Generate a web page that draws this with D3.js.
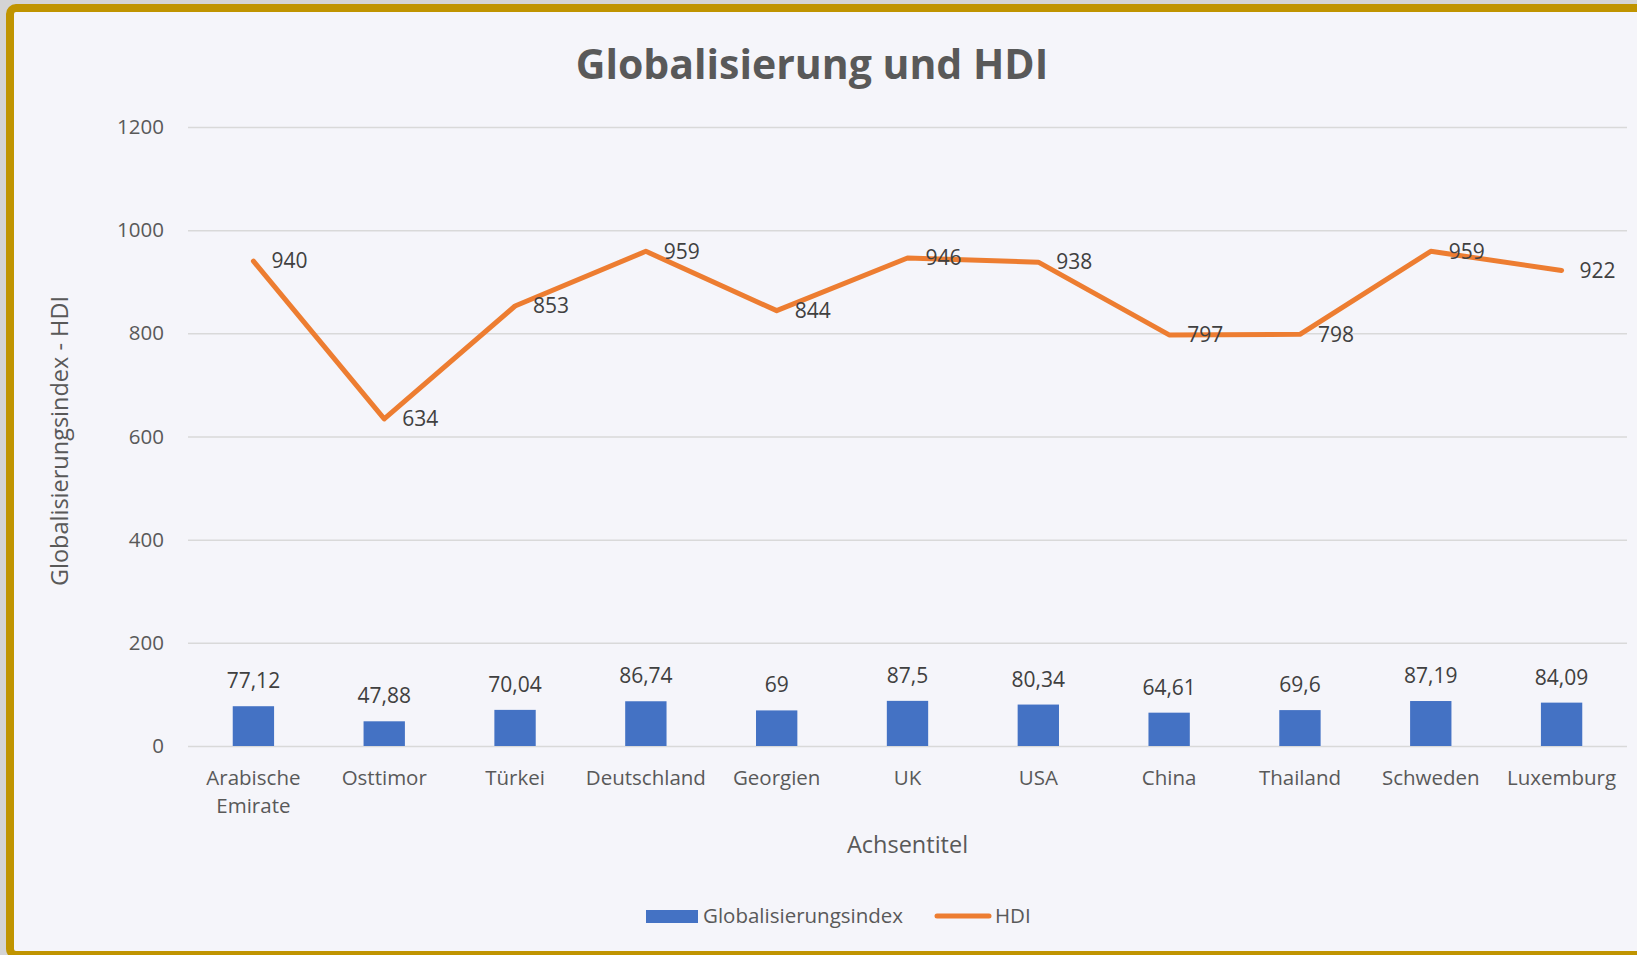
<!DOCTYPE html>
<html>
<head>
<meta charset="utf-8">
<script src="https://cdn.jsdelivr.net/npm/d3@7"></script>
<style>
  body { margin: 0; background: #d4d4d4; }
  svg { display: block; font-family: "Open Sans", sans-serif; }
</style>
</head>
<body>
<div id="chart"></div>
<script>
// Data
var countries = ["Arabische Emirate", "Osttimor", "Türkei", "Deutschland", "Georgien", "UK", "USA", "China", "Thailand", "Schweden", "Luxemburg"];
var globIndex = [77.12, 47.88, 70.04, 86.74, 69, 87.5, 80.34, 64.61, 69.6, 87.19, 84.09];
var hdi = [940, 634, 853, 959, 844, 946, 938, 797, 798, 959, 922];
var yTicks = [0, 200, 400, 600, 800, 1000, 1200];

var svgWidth = 1637;
var svgHeight = 955;
var margin = { top: 127, right: 10, bottom: 209, left: 188 };
var width = 1627 - margin.left;
var height = 746 - margin.top;

var svg = d3.select("#chart")
    .append("svg")
    .attr("width", svgWidth)
    .attr("height", svgHeight);

// frame
svg.append("rect")
    .attr("x", 10).attr("y", 8)
    .attr("width", svgWidth + 40).attr("height", 947)
    .attr("rx", 6)
    .attr("fill", "#f5f5fa")
    .attr("stroke", "#c09400")
    .attr("stroke-width", 8);

// title
svg.append("text")
    .attr("x", 812).attr("y", 79)
    .attr("text-anchor", "middle")
    .style("font-size", "41px")
    .style("font-weight", "bold")
    .attr("fill", "#595959")
    .text("Globalisierung und HDI");

var chart = svg.append("g")
    .attr("transform", "translate(" + margin.left + "," + margin.top + ")");

var x = d3.scaleBand().domain(countries).range([0, width]).padding(0);
var y = d3.scaleLinear().domain([0, 1200]).range([height, 0]);

// y axis with gridlines
var leftAxis = d3.axisLeft(y)
    .tickValues(yTicks)
    .tickFormat(function (d) { return d; })
    .tickSize(-width)
    .tickPadding(24);
var yAxis = chart.append("g").call(leftAxis);
yAxis.select(".domain").remove();
yAxis.selectAll(".tick line").attr("stroke", "#d9d9d9").attr("stroke-width", 1.5);
yAxis.selectAll(".tick text")
    .attr("fill", "#595959")
    .style("font-size", "20.5px")
    .style("font-family", "Open Sans");

// bars
var barW = x.bandwidth() * 0.316;
chart.selectAll(".bar")
    .data(globIndex)
    .enter()
    .append("rect")
    .attr("class", "bar")
    .attr("x", function (d, i) { return x(countries[i]) + x.bandwidth() / 2 - barW / 2; })
    .attr("y", function (d) { return y(d); })
    .attr("width", barW)
    .attr("height", function (d) { return height - y(d); })
    .attr("fill", "#4472c4");

// bar labels
chart.selectAll(".barlabel")
    .data(globIndex)
    .enter()
    .append("text")
    .attr("class", "barlabel")
    .attr("x", function (d, i) { return x(countries[i]) + x.bandwidth() / 2; })
    .attr("y", function (d) { return y(d) - 18; })
    .attr("text-anchor", "middle")
    .attr("fill", "#404040")
    .style("font-size", "21px")
    .text(function (d) { return String(d).replace(".", ","); });

// HDI line
var line = d3.line()
    .x(function (d, i) { return x(countries[i]) + x.bandwidth() / 2; })
    .y(function (d) { return y(d); });

chart.append("path")
    .datum(hdi)
    .attr("d", line)
    .attr("fill", "none")
    .attr("stroke", "#ed7d31")
    .attr("stroke-width", 5)
    .attr("stroke-linejoin", "round")
    .attr("stroke-linecap", "round");

chart.selectAll(".hdilabel")
    .data(hdi)
    .enter()
    .append("text")
    .attr("class", "hdilabel")
    .attr("x", function (d, i) { return x(countries[i]) + x.bandwidth() / 2 + 18; })
    .attr("y", function (d) { return y(d); })
    .attr("dy", "0.35em")
    .attr("fill", "#404040")
    .style("font-size", "21px")
    .text(function (d) { return d; });

// category labels
var catLabels = chart.selectAll(".cat")
    .data(countries)
    .enter()
    .append("text")
    .attr("class", "cat")
    .attr("text-anchor", "middle")
    .attr("fill", "#595959")
    .style("font-size", "20.5px");

catLabels.each(function (d) {
    var words = d.split(" ");
    var t = d3.select(this);
    words.forEach(function (w, k) {
        t.append("tspan")
            .attr("x", x(d) + x.bandwidth() / 2)
            .attr("y", height + 39 + k * 28)
            .text(w);
    });
});

// axis titles
chart.append("text")
    .attr("x", width / 2)
    .attr("y", height + 107)
    .attr("text-anchor", "middle")
    .attr("fill", "#595959")
    .style("font-size", "23.5px")
    .text("Achsentitel");

svg.append("text")
    .attr("transform", "translate(68,441) rotate(-90)")
    .attr("text-anchor", "middle")
    .attr("fill", "#595959")
    .style("font-size", "23.5px")
    .text("Globalisierungsindex - HDI");

// legend
var legend = svg.append("g");
legend.append("rect")
    .attr("x", 646).attr("y", 910)
    .attr("width", 52).attr("height", 13)
    .attr("fill", "#4472c4");
legend.append("text")
    .attr("x", 703).attr("y", 923)
    .attr("fill", "#595959")
    .style("font-size", "20.5px")
    .text("Globalisierungsindex");
legend.append("line")
    .attr("x1", 937).attr("x2", 989)
    .attr("y1", 916).attr("y2", 916)
    .attr("stroke", "#ed7d31")
    .attr("stroke-width", 5)
    .attr("stroke-linecap", "round");
legend.append("text")
    .attr("x", 995).attr("y", 923)
    .attr("fill", "#595959")
    .style("font-size", "20.5px")
    .text("HDI");
</script>
</body>
</html>
